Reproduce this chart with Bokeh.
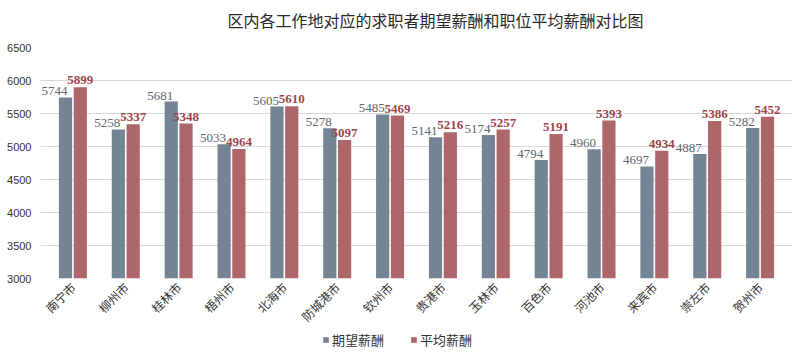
import math
from bokeh.plotting import figure
from bokeh.layouts import column
from bokeh.models import (ColumnDataSource, FactorRange, Range1d, Legend, LegendItem,
                          LabelSet, Label, FixedTicker)
from bokeh.transform import dodge
from bokeh.core.properties import value
from bokeh.embed import file_html
from bokeh.resources import INLINE

cities = ["南宁市", "柳州市", "桂林市", "梧州市", "北海市", "防城港市", "钦州市",
          "贵港市", "玉林市", "百色市", "河池市", "来宾市", "崇左市", "贺州市"]
expected = [5744, 5258, 5681, 5033, 5605, 5278, 5485, 5141, 5174, 4794, 4960, 4697, 4887, 5282]
average = [5899, 5337, 5348, 4964, 5610, 5097, 5469, 5216, 5257, 5191, 5393, 4934, 5386, 5452]
series_names = ["期望薪酬", "平均薪酬"]
y_ticks = [3000, 3500, 4000, 4500, 5000, 5500, 6000, 6500]
title_text = "区内各工作地对应的求职者期望薪酬和职位平均薪酬对比图"

GRAY = "#758494"
RED = "#ad676b"


def strip(h):
    f = figure(width=797, height=h, x_range=Range1d(0, 1), y_range=Range1d(0, 1),
               output_backend="svg", toolbar_location=None, min_border=0,
               x_axis_location=None, y_axis_location=None,
               outline_line_color=None, background_fill_color="white",
               border_fill_color="white")
    f.grid.visible = False
    return f


# title strip
pt = strip(36)
pt.add_layout(Label(x=395, y=17, x_units="screen", y_units="screen", text=title_text,
                    text_align="center", text_baseline="middle",
                    text_font="Noto Sans CJK SC", text_font_size="16px",
                    text_color="#2a2a2a"))

src = ColumnDataSource(dict(
    city=cities, expected=expected, average=average,
    exp_lbl=[str(v) for v in expected], avg_lbl=[str(v) for v in average],
))

p = figure(width=797, height=297,
           x_range=FactorRange(*cities, range_padding=0.113, range_padding_units="absolute"),
           y_range=Range1d(3000, 6500),
           output_backend="svg", toolbar_location=None,
           min_border_left=40, min_border_right=5, min_border_top=11,
           min_border_bottom=10, outline_line_color=None,
           background_fill_color="white", border_fill_color="white")

r1 = p.vbar(x=dodge("city", -0.14, range=p.x_range), top="expected", bottom=3000,
            width=0.25, source=src, fill_color=GRAY, line_color=None)
r2 = p.vbar(x=dodge("city", 0.14, range=p.x_range), top="average", bottom=3000,
            width=0.25, source=src, fill_color=RED, line_color=None)

l1 = LabelSet(x=dodge("city", -0.14, range=p.x_range), y="expected", text="exp_lbl",
              source=src, x_offset=-11, y_offset=2, text_align="center",
              text_baseline="bottom", text_font=value("Liberation Serif"),
              text_font_size="13px", text_color="#5f6670")
l2 = LabelSet(x=dodge("city", 0.14, range=p.x_range), y="average", text="avg_lbl",
              source=src, x_offset=0, y_offset=3, text_align="center",
              text_baseline="bottom", text_font=value("Liberation Serif"),
              text_font_size="13px", text_font_style="bold", text_color="#a0454a")
p.add_layout(l1)
p.add_layout(l2)

p.yaxis.ticker = FixedTicker(ticks=y_ticks)
p.yaxis.axis_line_color = None
p.yaxis.major_tick_line_color = None
p.yaxis.minor_tick_line_color = None
p.yaxis.major_label_text_font = "Liberation Sans"
p.yaxis.major_label_text_font_size = "11px"
p.yaxis.major_label_text_color = "#333333"
p.yaxis.major_label_standoff = 3

p.xaxis.axis_line_color = None
p.xaxis.major_tick_line_color = None
p.xaxis.minor_tick_line_color = None
p.xaxis.major_label_orientation = math.pi / 4
p.xaxis.major_label_text_font = "Noto Sans CJK SC"
p.xaxis.major_label_text_font_size = "12px"
p.xaxis.major_label_text_color = "#333333"
p.xaxis.major_label_standoff = 0

p.xgrid.grid_line_color = None
p.ygrid.grid_line_color = "#d9d9d9"
p.ygrid.grid_line_width = 1

# legend strip
pl = strip(19)
d1 = pl.vbar(x=[-5], top=[-5], width=1, fill_color=GRAY, line_color=None)
d2 = pl.vbar(x=[-5], top=[-5], width=1, fill_color=RED, line_color=None)
legend = Legend(items=[LegendItem(label=series_names[0], renderers=[d1]),
                       LegendItem(label=series_names[1], renderers=[d2])],
                orientation="horizontal", location=(282, 3),
                label_text_font="Noto Sans CJK SC", label_text_font_size="13px",
                label_text_color="#333333", glyph_width=7, glyph_height=7,
                spacing=26, padding=1, margin=0, border_line_color=None,
                background_fill_alpha=0, label_standoff=3,
                label_height=14)
pl.add_layout(legend)

layout = column(pt, p, pl, spacing=0)
open("out.html", "w").write(file_html(layout, INLINE))
